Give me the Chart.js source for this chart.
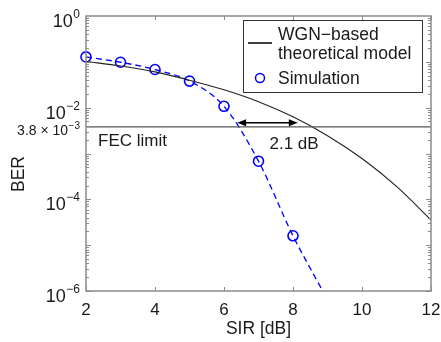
<!DOCTYPE html>
<html>
<head>
<meta charset="utf-8">
<script src="https://cdn.jsdelivr.net/npm/chart.js@4.4.0/dist/chart.umd.min.js"></script>
<style>
  html, body { margin: 0; padding: 0; background: #fff; }
</style>
</head>
<body>
<canvas id="berChart" width="441" height="342"></canvas>
<script>
// values
const sirTheory = [2, 3, 4, 5, 6, 7, 8, 9, 10, 11, 12];
const berTheory = [0.102, 0.0813, 0.0603, 0.0398, 0.0245, 0.0135, 0.0063, 0.00245, 0.000776, 0.000191, 0.0000355];

const sirSim = [2, 3, 4, 5, 6, 7, 8];
const berSim = [0.128, 0.098, 0.068, 0.038, 0.0107, 0.00068, 0.000016];

// dashed fit through the simulation points, runs down to the bottom axis
const sirFit = [2, 3, 4, 5, 6, 7, 8, 8.86];
const berFit = [0.128, 0.098, 0.068, 0.038, 0.0107, 0.00068, 0.000016, 0.000001];

const fecLimit = 3.8e-3;
const fecSir = [2, 12];
const gapFrom = 6.38, gapTo = 8.14, gapBer = 4.7e-3;

const xTicks = [2, 4, 6, 8, 10, 12];
const yDecades = [0, -1, -2, -3, -4, -5, -6];
const yLabelled = [0, -2, -4, -6];

const FONT = '"Liberation Sans", Arial, sans-serif';
const TXT = '#1a1a1a';
const AXIS = '#8a8a8a';

function pts(xs, ys) {
  return xs.map((x, i) => ({x: x, y: ys[i]}));
}

function drawPow(ctx, base, exp, xRight, baseY, size, supSize, rise) {
  ctx.textAlign = 'right';
  ctx.textBaseline = 'alphabetic';
  ctx.font = supSize + 'px ' + FONT;
  const supW = ctx.measureText(exp).width;
  ctx.fillText(exp, xRight, baseY - rise);
  ctx.font = size + 'px ' + FONT;
  ctx.fillText(base, xRight - supW - 0.5, baseY);
}

const figurePlugin = {
  id: 'figure',
  afterDatasetsDraw(chart) {
    const ctx = chart.ctx;
    const a = chart.chartArea;
    const xs = chart.scales.x, ys = chart.scales.y;
    ctx.save();

    // frame
    ctx.strokeStyle = AXIS;
    ctx.lineWidth = 1.5;
    ctx.strokeRect(a.left, a.top, a.right - a.left, a.bottom - a.top);

    // x ticks (bottom and top, pointing in)
    ctx.lineWidth = 1;
    xTicks.forEach(v => {
      const px = Math.round(xs.getPixelForValue(v)) + 0.5;
      ctx.beginPath();
      ctx.moveTo(px, a.bottom); ctx.lineTo(px, a.bottom - 4);
      ctx.moveTo(px, a.top); ctx.lineTo(px, a.top + 4);
      ctx.stroke();
    });

    // y ticks, decades and minors on both sides
    yDecades.forEach(k => {
      for (let m = 1; m <= 9; m++) {
        const v = m * Math.pow(10, k - 1);
        if (v < ys.min || v > ys.max) continue;
        const py = Math.round(ys.getPixelForValue(v)) + 0.5;
        const len = m === 1 ? 5 : 3;
        ctx.beginPath();
        ctx.moveTo(a.left, py); ctx.lineTo(a.left + len, py);
        ctx.moveTo(a.right, py); ctx.lineTo(a.right - len, py);
        ctx.stroke();
      }
    });

    // tick labels
    ctx.fillStyle = TXT;
    ctx.font = '17px ' + FONT;
    ctx.textAlign = 'center';
    ctx.textBaseline = 'alphabetic';
    xTicks.forEach(v => ctx.fillText(String(v), xs.getPixelForValue(v), 315));

    yLabelled.forEach(k => {
      const py = ys.getPixelForValue(Math.pow(10, k));
      drawPow(ctx, '10', k === 0 ? '0' : '\u2212' + (-k), a.left - 6, py + 11, 18, 12, 9);
    });
    const fy = ys.getPixelForValue(fecLimit);
    drawPow(ctx, '3.8 \u00d7 10', '\u22123', a.left - 6, fy + 8, 14, 10, 6);

    // axis titles
    ctx.font = '17.5px ' + FONT;
    ctx.textAlign = 'center';
    ctx.fillText('SIR [dB]', (a.left + a.right) / 2, 334);
    ctx.save();
    ctx.translate(24, 174);
    ctx.rotate(-Math.PI / 2);
    ctx.fillText('BER', 0, 0);
    ctx.restore();

    // FEC label
    ctx.font = '17px ' + FONT;
    ctx.textAlign = 'left';
    ctx.fillText('FEC limit', xs.getPixelForValue(2) + 12, fy + 19);

    // 2.1 dB gap arrow
    const x1 = xs.getPixelForValue(gapFrom), x2 = xs.getPixelForValue(gapTo);
    const gy = ys.getPixelForValue(gapBer);
    ctx.strokeStyle = '#000';
    ctx.fillStyle = '#000';
    ctx.lineWidth = 1.5;
    ctx.beginPath();
    ctx.moveTo(x1 + 6, gy); ctx.lineTo(x2 - 6, gy);
    ctx.stroke();
    [[x1, 1], [x2, -1]].forEach(([x, d]) => {
      ctx.beginPath();
      ctx.moveTo(x, gy);
      ctx.lineTo(x + d * 9, gy - 3.5);
      ctx.lineTo(x + d * 9, gy + 3.5);
      ctx.closePath();
      ctx.fill();
    });
    ctx.fillStyle = TXT;
    ctx.fillText('2.1 dB', (x1 + x2) / 2 + 2, fy + 22);

    // legend
    const lx = 243, ly = 20, lw = 179, lh = 72;
    ctx.fillStyle = '#fff';
    ctx.fillRect(lx, ly, lw, lh);
    ctx.strokeStyle = '#333';
    ctx.lineWidth = 1;
    ctx.strokeRect(lx + 0.5, ly + 0.5, lw, lh);
    ctx.strokeStyle = '#000';
    ctx.lineWidth = 1.5;
    ctx.beginPath();
    ctx.moveTo(lx + 5, ly + 23); ctx.lineTo(lx + 29, ly + 23);
    ctx.stroke();
    ctx.strokeStyle = '#0000ff';
    ctx.beginPath();
    ctx.arc(lx + 17, ly + 58, 4.5, 0, Math.PI * 2);
    ctx.stroke();
    ctx.fillStyle = TXT;
    ctx.font = '17.5px ' + FONT;
    ctx.textAlign = 'left';
    ctx.fillText('WGN\u2212based', lx + 35, ly + 20);
    ctx.fillText('theoretical model', lx + 35, ly + 39);
    ctx.fillText('Simulation', lx + 35, ly + 64);

    ctx.restore();
  }
};

new Chart(document.getElementById('berChart'), {
  type: 'line',
  data: {
    datasets: [
      {
        label: 'FEC limit',
        data: pts(fecSir, [fecLimit, fecLimit]),
        borderColor: '#555',
        borderWidth: 1.2,
        pointRadius: 0
      },
      {
        label: 'WGN-based theoretical model',
        data: pts(sirTheory, berTheory),
        borderColor: '#222',
        borderWidth: 1.1,
        pointRadius: 0,
        cubicInterpolationMode: 'monotone'
      },
      {
        label: 'fit',
        data: pts(sirFit, berFit),
        borderColor: '#0000ff',
        borderWidth: 1.3,
        borderDash: [6, 4],
        pointRadius: 0,
        cubicInterpolationMode: 'monotone'
      },
      {
        label: 'Simulation',
        data: pts(sirSim, berSim),
        showLine: false,
        borderColor: '#0000ff',
        backgroundColor: 'rgba(0,0,0,0)',
        borderWidth: 1.6,
        pointRadius: 5,
        clip: false
      }
    ]
  },
  options: {
    responsive: false,
    animation: false,
    layout: {padding: {left: 86, right: 10, top: 16, bottom: 51}},
    plugins: {legend: {display: false}, tooltip: {enabled: false}},
    scales: {
      x: {type: 'linear', min: 2, max: 12, display: false},
      y: {type: 'logarithmic', min: 1e-6, max: 1, display: false}
    }
  },
  plugins: [figurePlugin]
});
</script>
</body>
</html>
